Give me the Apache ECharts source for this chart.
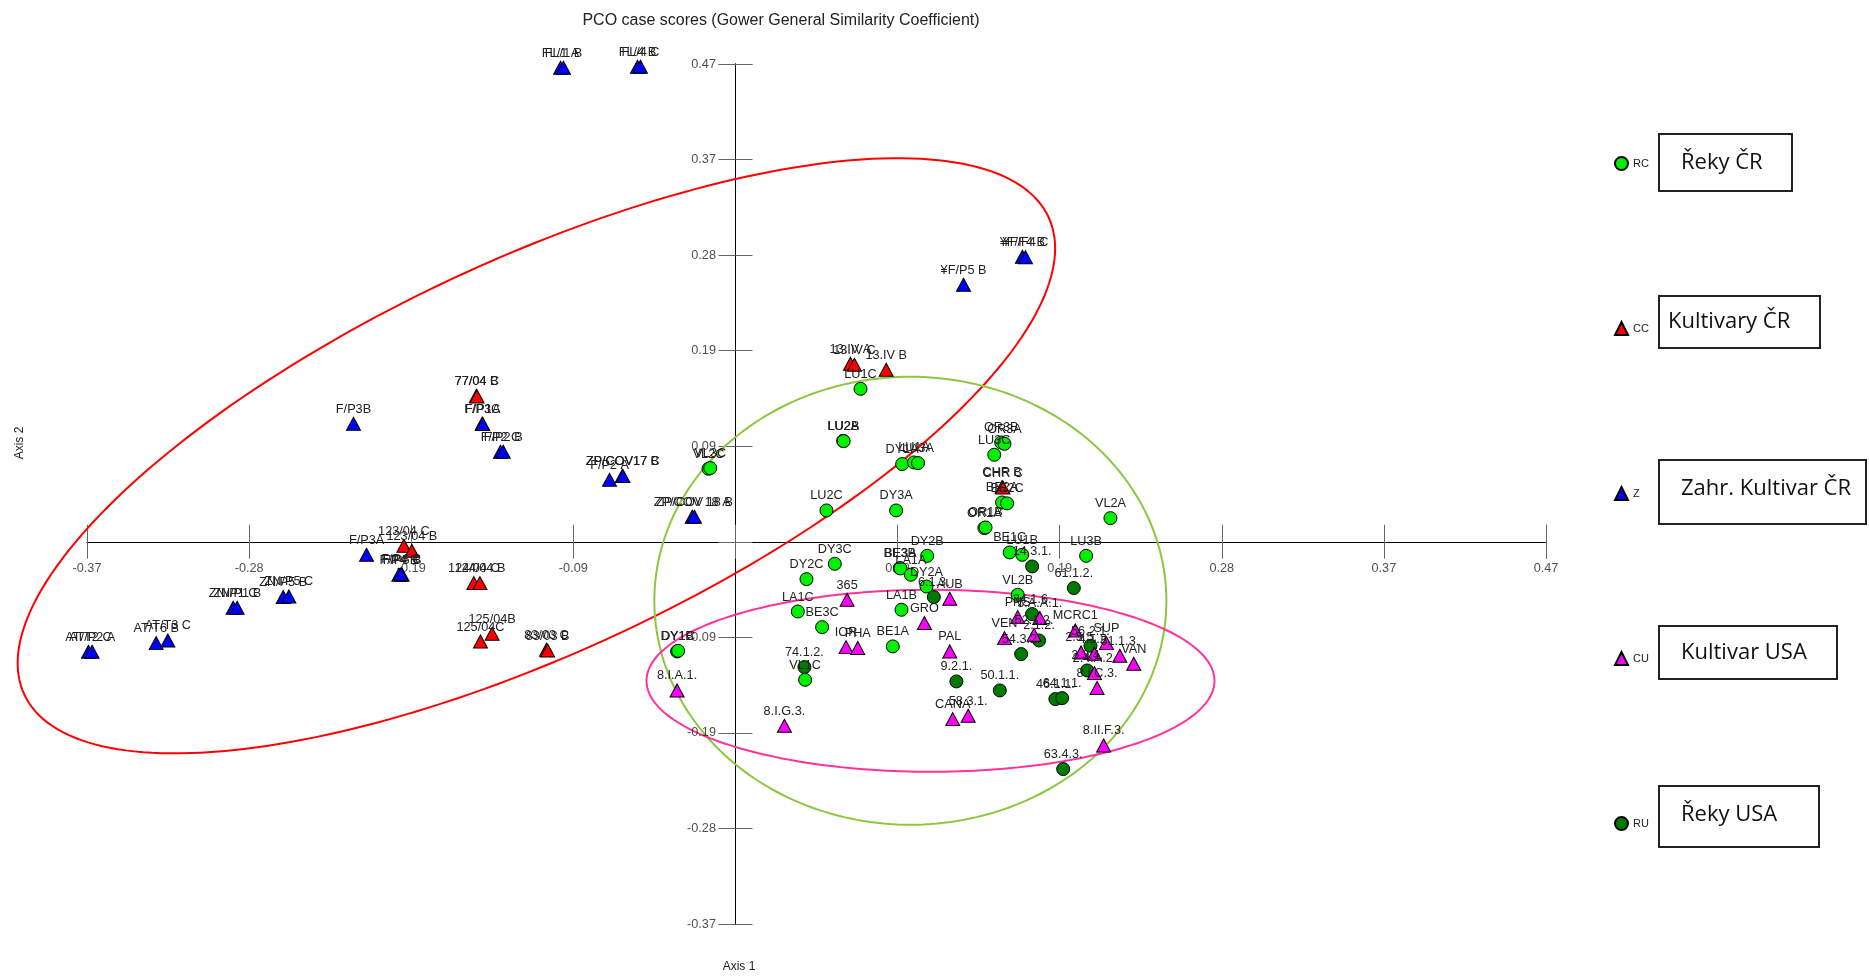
<!DOCTYPE html>
<html><head><meta charset="utf-8">
<script src="https://cdn.jsdelivr.net/npm/echarts@6/dist/echarts.min.js"></script>
<style>html,body{margin:0;padding:0;background:#fff}#c{width:1869px;height:976px}</style>
</head><body><div id="c"></div>
<script>
// ---- axis ticks ----
const tickInterval = 0.28 / 3;
const axisMin = -4 * tickInterval;
const axisMax = 5 * tickInterval;
const tickLabels = ['-0.37','-0.28','-0.19','-0.09','','0.09','0.19','0.28','0.37','0.47'];

// ---- RC : Řeky ČR ----
const rcNames = ['LU1C','LU2A','LU2B','VL2C','VL3C','DY1A','LU1A','LU3A','OR3B','OR3A','LU3C','LU2C','DY3A','BE2A','BE2C','OR1A','OR1B','VL2A','LU3B','BE1C','LU1B','DY2B','BE3B','BE3A','LA1A','DY2A','DY3C','DY2C','LA1C','BE3C','LA1B','BE1A','DY1B','DY1C','VL1C','VL2B'];
const rcX = [0.0720,0.0620,0.0623,-0.0155,-0.0145,0.0960,0.1028,0.1051,0.1530,0.1549,0.1490,0.0524,0.0925,0.1535,0.1564,0.1433,0.1440,0.2159,0.2019,0.1579,0.1651,0.1104,0.0946,0.0950,0.1010,0.1100,0.0572,0.0409,0.0359,0.0499,0.0956,0.0906,-0.0336,-0.0330,0.0401,0.1625];
const rcY = [0.1494,0.0986,0.0983,0.0713,0.0720,0.0759,0.0775,0.0769,0.0970,0.0957,0.0850,0.0306,0.0306,0.0384,0.0375,0.0134,0.0140,0.0231,-0.0137,-0.0104,-0.0127,-0.0137,-0.0257,-0.0260,-0.0322,-0.0437,-0.0215,-0.0365,-0.0681,-0.0834,-0.0664,-0.1022,-0.1071,-0.1065,-0.1348,-0.0518];

// ---- CC : Kultivary ČR ----
const ccNames = ['13.IV A','13.IV C','13.IV B','77/04 B','77/04 C','123/04 C','123/04 B','124/04 C','124/04 B','125/04C','125/04B','83/03 C','83/03 B','CHR B','CHR C'];
const ccX = [0.0662,0.0685,0.0868,-0.1491,-0.1488,-0.1909,-0.1863,-0.1506,-0.1471,-0.1468,-0.1401,-0.1088,-0.1081,0.1535,0.1540];
const ccY = [0.1739,0.1729,0.1680,0.1426,0.1420,-0.0039,-0.0088,-0.0404,-0.0404,-0.0974,-0.0899,-0.1055,-0.1062,0.0534,0.0530];

// ---- Z : Zahr. Kultivar ČR ----
const zNames = ['FL/1 A','FL/1 B','FL/4 B','FL/4 C','¥F/P5 B','¥F/F4 B','¥F/F4 C','F/P3B','F/P3C','F/P1A','F/P2 C','F/P2 B','F/P2 A','ZP/COV17 B','ZP/COV17 C','ZP/COV 18 A','ZP/COV 18 B','AT/T2 C','AT/P2 A','AT/T6 B','AT/T3 C','ZN/P1 C','ZN/P1 B','ZN/P5 B','ZN/P5 C','F/P3A','F/P4 B','F/P5 B','F/P4 C'];
const zX = [-0.1007,-0.0990,-0.0564,-0.0547,0.1313,0.1652,0.1670,-0.2199,-0.1458,-0.1455,-0.1353,-0.1337,-0.0725,-0.0651,-0.0648,-0.0249,-0.0236,-0.3725,-0.3704,-0.3335,-0.3268,-0.2892,-0.2869,-0.2604,-0.2571,-0.2124,-0.1938,-0.1919,-0.1925];
const zY = [0.4630,0.4630,0.4640,0.4640,0.2510,0.2784,0.2780,0.1152,0.1155,0.1150,0.0879,0.0879,0.0606,0.0645,0.0643,0.0244,0.0244,-0.1074,-0.1074,-0.0990,-0.0964,-0.0645,-0.0645,-0.0540,-0.0534,-0.0127,-0.0322,-0.0322,-0.0315];

// ---- RU : Řeky USA ----
const ruNames = ['14.3.1.','61.1.2.','34.1.6.','2.1.2.','54.3.2.','56.2.1.','2.3.4.','46.1.1.','64.1.1.','50.1.1.','63.4.3.','74.1.2.','9.2.1.','6.1.3.'];
const ruX = [0.1708,0.1948,0.1708,0.1748,0.1645,0.2044,0.2025,0.1842,0.1881,0.1522,0.1887,0.0397,0.1272,0.1142];
const ruY = [-0.0241,-0.0452,-0.0706,-0.0964,-0.1097,-0.1016,-0.1257,-0.1536,-0.1527,-0.1452,-0.2220,-0.1224,-0.1364,-0.0540];

// ---- CU : Kultivar USA ----
const cuNames = ['8.I.A.1.','8.I.G.3.','365','IOR','PHA','GRO','PAL','AUB','CANA','58.3.1.','PNS','5.A.A.1.','VEN','52.1.2.','MCRC1','SUP','51.1.3.','VAN','2.5.5.','4.1.2.','2.4.A.2.','8.I.C.3.','8.II.F.3.'];
const cuX = [-0.0336,0.0282,0.0643,0.0637,0.0704,0.1088,0.1234,0.1234,0.1251,0.1340,0.1625,0.1752,0.1549,0.1719,0.1957,0.2136,0.2213,0.2293,0.1990,0.2067,0.2067,0.2082,0.2120];
const cuY = [-0.1452,-0.1797,-0.0566,-0.1029,-0.1038,-0.0794,-0.1071,-0.0557,-0.1732,-0.1699,-0.0736,-0.0745,-0.0941,-0.0908,-0.0866,-0.0990,-0.1113,-0.1192,-0.1081,-0.1094,-0.1283,-0.1429,-0.1989];

// ---- group ellipses (data units; rotation in degrees) ----
const ellipseCX = [-0.1146, 0.1007, 0.1123];
const ellipseCY = [0.0840, -0.0576, -0.1358];
const ellipseRX = [0.3253, 0.1474, 0.1635];
const ellipseRY = [0.1914, 0.2188, 0.0889];
const ellipseRot = [25, 0, 0];
const ellipseColors = ['#FF0000', '#8DC63F', '#FF3399'];

const FONT = 'Liberation Sans, Arial, sans-serif';

function pts(names, xs, ys) {
  return names.map((n, i) => ({ name: n, value: [xs[i], ys[i]] }));
}
function scatter(name, data, symbol, color) {
  return {
    name, type: 'scatter', data,
    symbol, symbolSize: symbol === 'circle' ? 13 : [14, 13],
    itemStyle: { color, borderColor: '#000', borderWidth: 1, opacity: 1 },
    label: { show: true, position: 'top', distance: 1, formatter: '{b}', fontSize: 12.7, fontFamily: FONT, color: '#222' },
    emphasis: { disabled: true },
    z: 3
  };
}
function tickLabelSeries(isX) {
  return {
    type: 'scatter', name: isX ? 'xTicks' : 'yTicks', silent: true, z: 2,
    symbolSize: 1, itemStyle: { color: 'rgba(0,0,0,0)' },
    data: tickLabels.map((t, i) => ({ name: t, value: isX ? [(i - 4) * tickInterval, 0] : [0, (i - 4) * tickInterval] })),
    label: { show: true, position: isX ? 'bottom' : 'left', distance: isX ? 20 : 19, formatter: '{b}', fontSize: 12.7, fontFamily: FONT, color: '#222' },
    emphasis: { disabled: true }
  };
}

const chart = echarts.init(document.getElementById('c'), null, { renderer: 'canvas' });

function valAxis(extra) {
  return Object.assign({
    type: 'value', min: axisMin, max: axisMax, interval: tickInterval,
    splitLine: { show: false },
    axisLine: { show: true, onZero: true, onZeroAxisIndex: 0, lineStyle: { color: '#000', width: 1 } },
    axisTick: { show: true, length: 17, lineStyle: { color: '#666', width: 1 } },
    axisLabel: { show: false }
  }, extra);
}

const option = {
  backgroundColor: '#fff',
  animation: false,
  grid: { left: 87, right: 323, top: 64, bottom: 52, containLabel: false },
  xAxis: [ valAxis({ position: 'bottom' }), valAxis({ position: 'top' }) ],
  yAxis: [ valAxis({ position: 'left' }), valAxis({ position: 'right' }) ],
  legend: {
    orient: 'vertical', left: 1614, top: 156, padding: 0,
    itemWidth: 13, itemHeight: 13, itemGap: 150,
    data: ['RC', 'CC', 'Z', 'CU', 'RU'],
    textStyle: { fontSize: 11, fontFamily: FONT, color: '#222' }
  },
  series: [
    {
      type: 'custom', name: 'ellipses', silent: true, z: 1,
      data: ellipseCX.map((cx, i) => [cx, ellipseCY[i]]),
      encode: { x: 0, y: 1 },
      clip: false,
      renderItem: function (params, api) {
        const i = params.dataIndex;
        const c = api.coord([ellipseCX[i], ellipseCY[i]]);
        const s = api.size([1, 1]);
        const a = ellipseRX[i] * s[0], b = ellipseRY[i] * s[1];
        const th = ellipseRot[i] * Math.PI / 180;
        const p = [];
        for (let k = 0; k <= 240; k++) {
          const t = k / 240 * 2 * Math.PI;
          const X = a * Math.cos(t), Y = b * Math.sin(t);
          p.push([c[0] + X * Math.cos(th) - Y * Math.sin(th), c[1] - (X * Math.sin(th) + Y * Math.cos(th))]);
        }
        return { type: 'polygon', shape: { points: p }, style: { fill: 'none', stroke: ellipseColors[i], lineWidth: 2 } };
      }
    },
    tickLabelSeries(true),
    tickLabelSeries(false),
    scatter('RC', pts(rcNames, rcX, rcY), 'circle', '#00F000'),
    scatter('CC', pts(ccNames, ccX, ccY), 'triangle', '#FF0000'),
    scatter('Z', pts(zNames, zX, zY), 'triangle', '#0000FF'),
    scatter('RU', pts(ruNames, ruX, ruY), 'circle', '#007A00'),
    scatter('CU', pts(cuNames, cuX, cuY), 'triangle', '#FF00FF')
  ],
  graphic: [
    { type: 'text', x: 781, y: 21, style: { text: 'PCO case scores (Gower General Similarity Coefficient)', font: '16px ' + FONT, fill: '#222', align: 'center', verticalAlign: 'middle' } },
    { type: 'text', x: 739, y: 967, style: { text: 'Axis 1', font: '12px ' + FONT, fill: '#222', align: 'center', verticalAlign: 'middle' } },
    { type: 'text', x: 20, y: 443, rotation: Math.PI / 2, style: { text: 'Axis 2', font: '12px ' + FONT, fill: '#222', align: 'center', verticalAlign: 'middle' } },
    { type: 'rect', shape: { x: 1659, y: 134, width: 133, height: 57 }, style: { fill: '#fff', stroke: '#222', lineWidth: 2 } },
    { type: 'text', x: 1681, y: 163, style: { text: 'Řeky ČR', font: '22px Open Sans', fill: '#111', verticalAlign: 'middle' } },
    { type: 'rect', shape: { x: 1659, y: 296, width: 161, height: 52 }, style: { fill: '#fff', stroke: '#222', lineWidth: 2 } },
    { type: 'text', x: 1668, y: 322, style: { text: 'Kultivary ČR', font: '22px Open Sans', fill: '#111', verticalAlign: 'middle' } },
    { type: 'rect', shape: { x: 1659, y: 460, width: 207, height: 64 }, style: { fill: '#fff', stroke: '#222', lineWidth: 2 } },
    { type: 'text', x: 1681, y: 489, style: { text: 'Zahr. Kultivar ČR', font: '22px Open Sans', fill: '#111', verticalAlign: 'middle' } },
    { type: 'rect', shape: { x: 1659, y: 626, width: 178, height: 53 }, style: { fill: '#fff', stroke: '#222', lineWidth: 2 } },
    { type: 'text', x: 1681, y: 653, style: { text: 'Kultivar USA', font: '22px Open Sans', fill: '#111', verticalAlign: 'middle' } },
    { type: 'rect', shape: { x: 1659, y: 786, width: 160, height: 61 }, style: { fill: '#fff', stroke: '#222', lineWidth: 2 } },
    { type: 'text', x: 1681, y: 815, style: { text: 'Řeky USA', font: '22px Open Sans', fill: '#111', verticalAlign: 'middle' } }
  ]
};
chart.setOption(option);
</script></body></html>
